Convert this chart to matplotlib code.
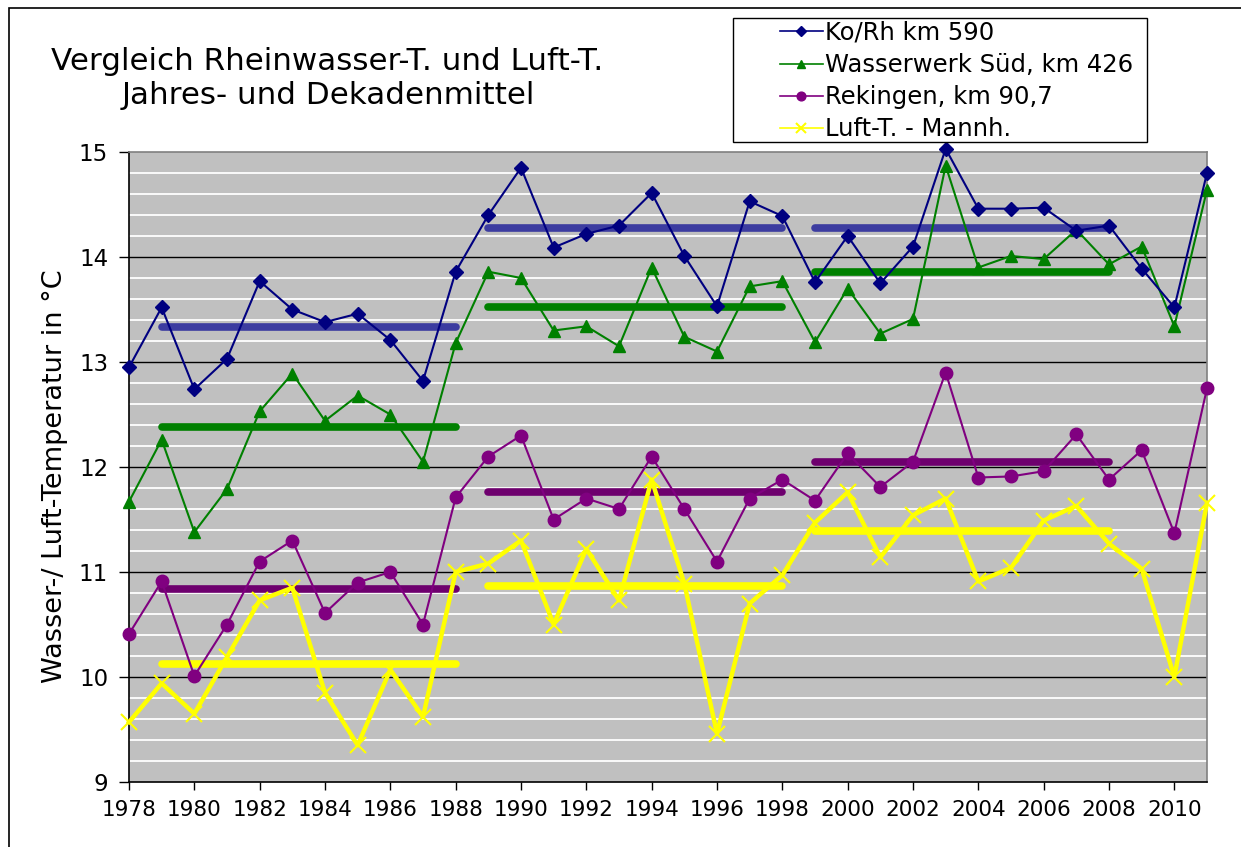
import numpy as np
import matplotlib.pyplot as plt
from matplotlib.patches import Rectangle

years = list(range(1978, 2012))

# annual means (deg C)
ko_rh = [12.95, 13.52, 12.74, 13.03, 13.77, 13.50, 13.38, 13.46, 13.21, 12.82,
         13.86, 14.40, 14.85, 14.09, 14.22, 14.30, 14.61, 14.01, 13.53, 14.53,
         14.39, 13.76, 14.20, 13.75, 14.10, 15.03, 14.46, 14.46, 14.47, 14.25,
         14.30, 13.89, 13.52, 14.80]
wasserwerk = [11.67, 12.26, 11.38, 11.79, 12.53, 12.89, 12.44, 12.68, 12.50, 12.05,
              13.18, 13.86, 13.80, 13.30, 13.34, 13.15, 13.90, 13.24, 13.10, 13.72,
              13.77, 13.19, 13.70, 13.27, 13.41, 14.87, 13.90, 14.01, 13.98, 14.26,
              13.93, 14.10, 13.34, 14.64]
rekingen = [10.41, 10.91, 10.01, 10.50, 11.10, 11.30, 10.61, 10.90, 11.00, 10.50,
            11.71, 12.10, 12.30, 11.50, 11.70, 11.60, 12.10, 11.60, 11.10, 11.70,
            11.88, 11.68, 12.13, 11.81, 12.05, 12.90, 11.90, 11.91, 11.96, 12.31,
            11.88, 12.16, 11.37, 12.75]
luft = [9.57, 9.94, 9.65, 10.19, 10.73, 10.85, 9.85, 9.35, 10.07, 9.62,
        11.00, 11.08, 11.30, 10.50, 11.22, 10.73, 11.88, 10.89, 9.46, 10.70,
        10.97, 11.47, 11.76, 11.14, 11.54, 11.70, 10.91, 11.04, 11.49, 11.63,
        11.27, 11.03, 10.00, 11.66]

# decade means
dec_start = [1979, 1989, 1999]
dec_end = [1988, 1998, 2008]
dec_ko_rh = [13.33, 14.28, 14.28]
dec_wasserwerk = [12.38, 13.52, 13.86]
dec_rekingen = [10.84, 11.76, 12.05]
dec_luft = [10.12, 10.87, 11.39]

labels = ['Ko/Rh km 590', 'Wasserwerk Süd, km 426', 'Rekingen, km 90,7', 'Luft-T. - Mannh.']

W, H = 1241, 847
fig = plt.figure(figsize=(W / 100, H / 100), dpi=100)
fig.patches.append(Rectangle((9 / W, -0.1), 1.2, 1 - 8 / H + 0.1, transform=fig.transFigure,
                             fill=False, edgecolor='black', linewidth=1.2))

ax = fig.add_axes([129 / W, 1 - 782 / H, (1207 - 129) / W, 630 / H])
ax.set_facecolor('#C0C0C0')

# grid
for v in np.arange(9.2, 15.0, 0.2):
    if abs(v - round(v)) > 0.01:
        ax.axhline(v, color='white', linewidth=1.3, zorder=1)
for v in range(10, 15):
    ax.axhline(v, color='black', linewidth=1.0, zorder=1)

# decade means
dec_series = [(dec_ko_rh, '#3C3CA0'), (dec_wasserwerk, '#008000'),
              (dec_rekingen, '#6E006E'), (dec_luft, '#FFFF00')]
for vals, col in dec_series:
    for s, e, v in zip(dec_start, dec_end, vals):
        ax.plot([s, e], [v, v], color=col, linewidth=5.5, solid_capstyle='round', zorder=2)

# annual series
ax.plot(years, luft, color='#FFFF00', linewidth=3.2, marker='x', markersize=11,
        markeredgewidth=1.5, label=labels[3], zorder=3, clip_on=False)
ax.plot(years, rekingen, color='#800080', linewidth=1.5, marker='o', markersize=9,
        label=labels[2], zorder=4, clip_on=False)
ax.plot(years, wasserwerk, color='#008000', linewidth=1.5, marker='^', markersize=8,
        label=labels[1], zorder=5, clip_on=False)
ax.plot(years, ko_rh, color='#000080', linewidth=1.5, marker='D', markersize=7,
        label=labels[0], zorder=6, clip_on=False)

ax.set_xlim(1978, 2011)
ax.set_ylim(9, 15)
ax.set_xticks(range(1978, 2011, 2))
ax.set_yticks(range(9, 16))
ax.tick_params(axis='both', direction='out', width=1, colors='black')
ax.tick_params(axis='x', labelsize=15.5, length=6, pad=7)
ax.tick_params(axis='y', labelsize=16.5, length=7, pad=8)
for side in ['left', 'bottom']:
    ax.spines[side].set_color('black')
    ax.spines[side].set_linewidth(1.2)
for side in ['right', 'top']:
    ax.spines[side].set_color('#808080')
    ax.spines[side].set_linewidth(1.2)

fig.text(55 / W, 1 - 476 / H, 'Wasser-/ Luft-Temperatur in °C', rotation=90,
         ha='center', va='center', fontsize=19.5)
fig.text(327 / W, 1 - 62 / H, 'Vergleich Rheinwasser-T. und Luft-T.', ha='center', va='center',
         fontsize=22.3)
fig.text(328 / W, 1 - 95 / H, 'Jahres- und Dekadenmittel', ha='center', va='center', fontsize=22.3)

# legend frame drawn separately, entries placed inside
fig.patches.append(Rectangle((733 / W, 1 - 142 / H), (1147 - 733) / W, 124 / H,
                             transform=fig.transFigure, facecolor='white',
                             edgecolor='black', linewidth=1.0, zorder=5))
h, l = ax.get_legend_handles_labels()
leg = fig.legend(h[::-1], l[::-1], loc='upper left', bbox_to_anchor=(780 / W, 1 - 21 / H),
                 fontsize=17.5, frameon=False, borderpad=0.0, labelspacing=0.33,
                 handlelength=1.75, handletextpad=0.1, borderaxespad=0, markerscale=0.7)
leg.set_zorder(6)
for line in leg.get_lines():
    line.set_linewidth(1.2)

fig.savefig('out.png', dpi=100)
